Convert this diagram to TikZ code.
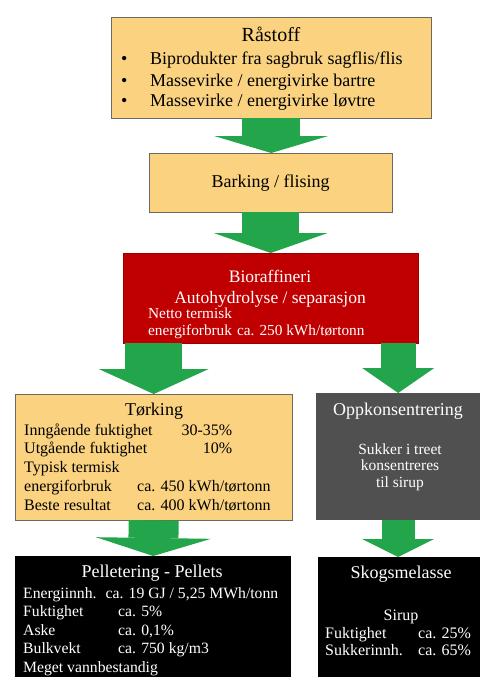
\documentclass[tikz,border=0pt]{standalone}
\usepackage{fontspec}
\setmainfont{Liberation Serif}
\usetikzlibrary{arrows.meta}
\definecolor{Gul}{RGB}{250, 210, 128}
\definecolor{Kant}{RGB}{110, 105, 90}
\definecolor{Roed}{RGB}{192, 0, 0}
\definecolor{Graa}{RGB}{80, 80, 80}
\definecolor{Groenn}{RGB}{35, 165, 75}
\tikzset{
    boks/.style = {inner sep=0pt, anchor=north west},
    gul boks/.style = {boks, fill=Gul, draw=Kant, thin},
    tittel/.style = {anchor=base, inner sep=0pt, font=\fontsize{18}{21}\selectfont},
    tekst/.style = {anchor=base west, inner sep=0pt, font=\fontsize{16}{18.5}\selectfont},
    pil/.style n args = {3}{draw=Groenn, line width=#1, arrows = {-Triangle[width=#2 0 0, length=#3 0 0, line width=0pt 0 0]}}
}

\begin{document}
\begin{tikzpicture}[
        x=1pt, y=-1pt,
        hvit/.style = {text=white}
    ]
    \useasboundingbox (0,0) rectangle (480,677);

    % bokser
    \node[gul boks, minimum width=320pt, minimum height=101pt] (rastoff) at (111,17) {};
    \node[gul boks, minimum width=243pt, minimum height=59pt, font=\fontsize{18}{21}\selectfont] (barking) at (149,153) {Barking / flising};
    \node[boks, fill=Roed, draw=Roed!80!black, thin, minimum width=295pt, minimum height=90pt] (bio) at (123,253) {};
    \node[gul boks, minimum width=277pt, minimum height=126pt] (torking) at (15,394) {};
    \node[boks, fill=Graa, minimum width=164pt, minimum height=127pt] (opp) at (316,393) {};
    \node[boks, fill=black, minimum width=276pt, minimum height=130pt] (pellets) at (15,556) {};
    \node[boks, fill=black, minimum width=162pt, minimum height=130pt] (skogs) at (318,557) {};

    % piler
    \draw[pil={58pt}{114pt}{17pt}] (rastoff.south) -- (rastoff.south |- barking.north);
    \draw[pil={57pt}{114pt}{20pt}] (barking.south) -- (bio.north);
    \draw[pil={57pt}{110pt}{25pt}] (torking.north |- bio.south) -- (torking.north);
    \draw[pil={35pt}{72pt}{25pt}] (opp.north |- bio.south) -- (opp.north);
    \draw[pil={50pt}{115pt}{18pt}] (torking.south) -- (pellets.north);
    \draw[pil={33pt}{72pt}{18pt}] (opp.south) -- (opp.south |- skogs.north);

    % tekster
    \node[tittel, font=\fontsize{20}{24}\selectfont] (rastoff tittel) at (271,42) {Råstoff};
    \node[tekst, font=\fontsize{18}{21}\selectfont] (rastoff liste) at (121,65) {\begin{tabular}[t]{@{}l@{}}
        \makebox[29pt][l]{\textbullet}Biprodukter fra sagbruk sagflis/flis\\
        \makebox[29pt][l]{\textbullet}Massevirke / energivirke bartre\\
        \makebox[29pt][l]{\textbullet}Massevirke / energivirke løvtre
    \end{tabular}};

    \node[tittel, hvit, font=\fontsize{17.5}{21}\selectfont] (bio tittel) at (270,282) {\begin{tabular}[t]{@{}c@{}}
        Bioraffineri\\ Autohydrolyse / separasjon
    \end{tabular}};
    \node[tekst, hvit, font=\fontsize{15.3}{17}\selectfont] (bio tekst) at (148,318) {\begin{tabular}[t]{@{}l@{}}
        Netto termisk\\ energiforbruk\hspace{5pt}ca. 250 kWh/tørtonn
    \end{tabular}};

    \node[tittel] (torking tittel) at (154,415) {Tørking};
    \node[tekst, font=\fontsize{16}{18.75}\selectfont] (torking tekst) at (24,435) {\begin{tabular}[t]{@{}l@{}}
        \makebox[208pt][l]{Inngående fuktighet\hfill 30-35\%}\\
        \makebox[208pt][l]{Utgående fuktighet\hfill 10\%}\\
        Typisk termisk\\
        \makebox[113pt][l]{energiforbruk}ca. 450 kWh/tørtonn\\
        \makebox[113pt][l]{Beste resultat}ca. 400 kWh/tørtonn
    \end{tabular}};

    \node[tittel, hvit] (opp tittel) at (398,415) {Oppkonsentrering};
    \node[tittel, hvit, font=\fontsize{15.5}{16.5}\selectfont] (opp tekst) at (400,454) {\begin{tabular}[t]{@{}c@{}}
        Sukker i treet\\ konsentreres\\ til sirup
    \end{tabular}};

    \node[tittel, hvit] (pellets tittel) at (152,577) {Pelletering - Pellets};
    \node[tekst, hvit, font=\fontsize{15.7}{18.5}\selectfont] (pellets tekst) at (23,598) {\begin{tabular}[t]{@{}l@{}}
        Energiinnh.\hspace{9pt}ca. 19 GJ / 5,25 MWh/tonn\\
        \makebox[95pt][l]{Fuktighet}ca. 5\%\\
        \makebox[95pt][l]{Aske}ca. 0,1\%\\
        \makebox[95pt][l]{Bulkvekt}ca. 750 kg/m3\\
        Meget vannbestandig
    \end{tabular}};

    \node[tittel, hvit] (skogs tittel) at (401,578) {Skogsmelasse};
    \node[tittel, hvit, font=\fontsize{16}{17.5}\selectfont] (sirup) at (401,620) {Sirup};
    \node[tekst, hvit, font=\fontsize{16}{17.5}\selectfont] (skogs tekst) at (325,638) {\begin{tabular}[t]{@{}l@{}}
        \makebox[93pt][l]{Fuktighet}ca. 25\%\\
        \makebox[93pt][l]{Sukkerinnh.}ca. 65\%
    \end{tabular}};

\end{tikzpicture}
\end{document}
